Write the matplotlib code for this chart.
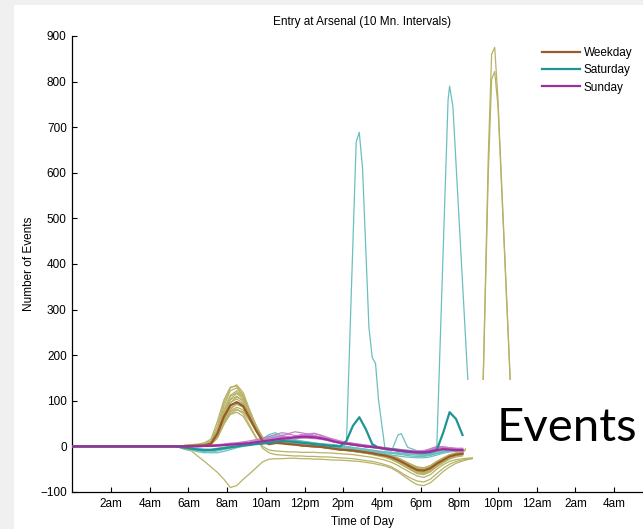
import numpy as np
import matplotlib
matplotlib.use("Agg")
import matplotlib.pyplot as plt
from matplotlib.patches import Rectangle

plt.rcParams['font.family'] = ['Liberation Sans', 'DejaVu Sans']

# ---------------- data ----------------
title = "Entry at Arsenal (10 Mn. Intervals)"
tick_hours = [2, 4, 6, 8, 10, 12, 14, 16, 18, 20, 22, 24, 26, 28]
tick_labels = ["2am", "4am", "6am", "8am", "10am", "12pm", "2pm", "4pm",
               "6pm", "8pm", "10pm", "12am", "2am", "4am"]
y_ticks = [-100, 0, 100, 200, 300, 400, 500, 600, 700, 800, 900]

# sampling hours for the bundles: 5:10, 5:30, ... 20:10
hours = np.arange(31, 122, 2) / 6.0

weekday_thin = {
    "w1": [0,1,2,3,4,6,12,45,95,128,135,118,80,45,18,8,10,12,7,5,6,2,1,3,-2,-4,-2,-7,-8,-6,-12,-14,-12,-19,-23,-29,-36,-44,-50,-52,-47,-37,-29,-21,-17,-15],
    "w2": [0,0,2,2,3,4,10,38,88,122,128,112,75,40,15,6,9,8,11,4,2,5,0,-1,-3,-1,-7,-8,-10,-8,-14,-16,-19,-22,-26,-33,-41,-49,-56,-58,-52,-41,-33,-25,-20,-18],
    "w3": [0,1,1,2,2,3,8,32,78,112,122,110,78,45,18,7,10,14,8,6,9,3,2,4,-2,-4,-5,-3,-8,-9,-11,-9,-16,-18,-21,-27,-34,-41,-47,-48,-43,-34,-27,-20,-16,-14],
    "w4": [0,0,1,1,2,3,7,30,72,104,116,104,70,38,14,5,8,7,10,4,2,1,3,-1,-3,-5,-3,-9,-10,-12,-10,-17,-20,-23,-28,-35,-43,-51,-58,-60,-54,-43,-34,-26,-21,-19],
    "w5": [0,1,1,2,3,3,8,30,72,102,110,98,68,38,15,6,9,8,6,8,3,1,4,-1,-3,-4,-6,-4,-9,-10,-12,-14,-12,-19,-22,-28,-35,-42,-48,-50,-44,-35,-27,-20,-16,-14],
    "w6": [0,0,1,1,2,2,6,26,66,96,104,94,66,36,13,4,7,6,5,7,2,0,-1,1,-4,-6,-8,-6,-11,-13,-15,-18,-21,-24,-29,-36,-44,-52,-60,-62,-56,-45,-36,-28,-23,-21],
    "w7": [0,1,1,2,2,3,6,24,60,88,98,92,65,38,15,6,9,8,7,5,7,2,1,0,2,-4,-5,-6,-4,-9,-11,-13,-15,-17,-21,-26,-33,-40,-46,-47,-42,-33,-25,-18,-14,-12],
    "w8": [0,0,1,1,2,2,5,22,56,84,92,86,62,36,14,5,7,10,5,3,6,1,0,-2,-3,-1,-7,-8,-10,-12,-10,-16,-19,-21,-25,-31,-39,-47,-54,-55,-49,-39,-31,-23,-19,-17],
    "w9": [0,1,1,1,2,3,5,20,52,78,86,80,58,34,13,5,8,7,6,4,3,5,0,-1,-3,-4,-6,-8,-5,-11,-13,-15,-17,-20,-24,-30,-37,-44,-50,-51,-46,-36,-28,-21,-17,-15],
    "w10": [0,0,1,1,1,2,4,18,48,72,80,76,56,33,12,4,6,6,4,7,1,0,-1,-2,-4,-2,-8,-9,-11,-13,-15,-17,-20,-23,-27,-33,-40,-48,-55,-57,-51,-41,-32,-24,-20,-18],
    "w11": [0,1,2,4,5,8,16,55,102,130,132,112,72,38,14,6,12,10,8,6,4,3,6,1,-1,-3,-5,-6,-7,-9,-11,-13,-15,-17,-20,-25,-32,-39,-45,-47,-43,-33,-26,-19,-15,-13],
    "w12": [0,0,1,2,3,5,9,34,80,110,118,108,76,42,16,7,11,9,12,7,5,3,2,1,-1,-3,-4,-6,-7,-9,-11,-12,-14,-17,-20,-26,-33,-40,-46,-48,-44,-35,-27,-20,-16,-14],
    "w13": [0,1,1,2,3,4,8,26,62,96,108,102,76,46,20,8,9,8,6,5,3,2,0,-1,-3,-5,-6,-8,-9,-11,-13,-15,-18,-21,-25,-31,-39,-46,-52,-54,-49,-38,-30,-22,-18,-16],
    "w14": [0,0,1,1,2,3,6,20,50,80,95,90,70,44,20,9,10,9,7,5,3,2,1,-1,-2,-4,-6,-7,-9,-10,-12,-14,-17,-20,-25,-31,-38,-46,-53,-55,-50,-40,-31,-23,-18,-16],
    "low_a": [0,0,1,1,2,3,6,22,50,70,75,66,42,18,0,-8,-10,-11,-12,-12,-13,-13,-13,-14,-14,-15,-16,-17,-18,-20,-22,-24,-27,-30,-35,-42,-50,-58,-65,-68,-62,-50,-40,-33,-29,-27],
    "low_b": [0,0,1,1,2,3,6,24,54,76,82,72,46,20,-4,-14,-18,-19,-20,-21,-21,-22,-22,-23,-23,-24,-25,-26,-27,-29,-31,-33,-36,-40,-45,-53,-62,-70,-76,-78,-72,-60,-48,-39,-33,-30],
    "holiday": [0,-2,-7,-10,-22,-33,-45,-57,-72,-90,-86,-72,-60,-47,-34,-28,-27,-27,-26,-26,-27,-27,-28,-28,-29,-30,-30,-31,-32,-33,-35,-37,-40,-43,-48,-56,-66,-76,-84,-86,-80,-68,-55,-45,-37,-32],
}
# late tails of the three low weekday lines (8:40pm)
tail_hour = 20.67
weekday_tails = {"low_a": -25, "low_b": -27, "holiday": -26}

# two weekdays with a late-evening event
event_hours = [20.17, 21.17, 21.5, 21.67, 21.83, 22.0, 22.33, 22.67, 23.0]
weekday_event_a = [-14, 30, 640, 860, 875, 760, 440, 110, 0]
weekday_event_b = [-12, 30, 600, 805, 822, 745, 430, 105, 0]

saturday_thin = {
    "s1": [0,-1,-4,-8,-12,-14,-13,-10,-7,-4,-1,2,5,9,14,20,24,18,14,12,9,8,6,5,3,2,0,-2,-4,-6,-8,-10,-12,-14,-15,-16,-17,-18,-19,-20,-19,-15,-12,-10,-9,-8],
    "s2": [0,0,-2,-5,-8,-10,-10,-8,-5,-2,0,3,6,10,16,26,30,22,16,13,10,8,7,5,4,3,1,-1,-3,-5,-7,-9,-11,-13,-15,-17,-19,-21,-22,-22,-20,-16,-13,-11,-10,-9],
    "s3": [0,-1,-3,-6,-9,-12,-14,-14,-11,-7,-3,0,3,6,9,12,16,14,11,8,6,4,3,2,0,-1,-3,-5,-7,-9,-11,-13,-15,-17,-19,-21,-23,-24,-25,-25,-23,-19,-15,-12,-11,-10],
    "s4": [0,0,-1,-3,-5,-6,-6,-4,-2,1,3,6,9,13,18,22,19,16,15,13,11,9,7,6,5,4,2,0,-2,-4,-6,-8,-10,-12,-13,-14,-15,-16,-17,-17,-16,-12,-9,-7,-6,-5],
    "s5": [0,-1,-3,-6,-8,-9,-8,-6,-4,-2,0,2,4,7,11,17,21,25,20,15,12,10,8,6,4,2,0,-2,-4,-6,-8,-10,-12,-13,-14,-15,-16,-17,-18,-18,-17,-14,-11,-9,-8,-7],
}
# Saturday with two football matches (finer sampling)
sat_event_hours = [0, 5.17, 6.0, 7.0, 8.0, 9.0, 10.0, 11.0, 12.0, 13.0, 14.0, 14.17,
                   14.67, 14.83, 15.0, 15.33, 15.5, 15.67, 15.83, 16.17, 16.5, 16.83,
                   17.0, 17.33, 18.0, 18.83, 19.42, 19.5, 19.67, 20.5]
sat_event_vals = [0, 0, -5, -9, -2, 5, 12, 10, 6, 2, -2, 10,
                  667, 689, 610, 261, 195, 182, 100, -8, -10, 25,
                  28, -2, -12, -10, 760, 790, 745, 100]

sunday_thin = {
    "u1": [0,0,0,1,1,2,2,3,4,5,6,8,9,12,15,17,20,24,27,24,22,25,23,20,17,13,9,7,5,3,1,-1,-3,-5,-7,-9,-10,-11,-12,-12,-9,-4,-3,-5,-6,-6],
    "u2": [0,0,0,0,1,1,2,2,3,4,5,5,6,8,10,14,17,15,18,22,26,24,19,16,14,10,7,5,3,1,-1,-3,-4,-6,-8,-10,-12,-13,-14,-14,-12,-8,-6,-8,-9,-9],
    "u3": [0,0,0,1,1,1,1,2,3,4,5,7,8,10,12,13,15,20,22,18,20,24,28,25,19,14,11,9,6,4,2,0,-2,-4,-6,-8,-10,-11,-11,-10,-5,0,-2,-4,-5,-5],
    "u4": [0,0,0,0,0,1,1,1,2,3,4,5,6,7,9,11,13,15,16,18,19,18,17,16,13,10,7,5,3,1,-1,-2,-4,-6,-8,-10,-12,-14,-15,-15,-13,-10,-8,-9,-10,-10],
    "u5": [0,0,1,1,1,2,2,3,4,5,6,7,9,11,13,16,18,16,15,20,24,27,24,21,17,12,9,8,6,4,2,1,-1,-3,-5,-7,-8,-10,-11,-11,-8,-3,-1,-3,-5,-5],
    "u6": [0,0,0,0,1,1,1,2,2,3,4,5,7,9,12,15,19,22,19,17,18,20,21,18,15,12,9,7,4,2,0,-2,-4,-6,-8,-10,-11,-12,-13,-14,-12,-8,-6,-7,-8,-8],
    "u7": [0,0,0,1,1,2,3,4,5,7,8,10,12,15,18,22,26,30,28,32,30,27,29,24,20,16,12,9,7,5,3,1,-1,-3,-5,-6,-8,-9,-10,-9,-6,-2,-1,-3,-4,-4],
}

weekday_mean = [0,0,1,1,2,2,6,28,65,90,97,88,62,35,12,5,8,7,5,4,2,1,0,-1,-3,-5,-7,-8,-9,-11,-13,-15,-18,-20,-24,-30,-37,-45,-52,-53,-48,-38,-30,-22,-18,-16]
saturday_mean = [0,-1,-3,-5,-7,-8,-8,-6,-4,-2,0,2,3,5,6,8,10,12,11,10,8,7,5,4,2,1,0,12,45,64,38,5,-3,-5,-6,-8,-10,-12,-13,-14,-13,-8,30,75,60,25]
sunday_mean = [0,0,0,0,0,1,1,2,3,4,5,6,7,9,11,13,15,17,18,20,21,21,20,18,15,11,8,6,4,2,0,-1,-3,-5,-7,-9,-11,-12,-13,-13,-11,-8,-6,-7,-8,-8]

series_names = ["Weekday", "Saturday", "Sunday"]

# ---------------- styles ----------------
c_week_thin = "#b7b267"
c_sat_thin = "#6cbfbf"
c_sun_thin = "#c77fcb"
c_week = "#9a5a2a"
c_sat = "#1f9494"
c_sun = "#9c2f9c"

W, H = 643, 529
fig = plt.figure(figsize=(W / 100, H / 100), dpi=100)
fig.patch.set_facecolor("#f0f0f0")
fig.add_artist(Rectangle((14 / W, 0), 1 - 14 / W, 1 - 5 / H, transform=fig.transFigure,
                         facecolor="white", edgecolor="none", zorder=-10))

ax = fig.add_axes([72.3 / W, 1 - 492 / H, 580.5 / W, 456 / H])
ax.set_facecolor("white")


def with_lead(vals):
    return np.concatenate([[0.0], hours]), np.concatenate([[0.0], vals])


for name, vals in weekday_thin.items():
    x, y = with_lead(vals)
    if name in weekday_tails:
        x = np.append(x, tail_hour)
        y = np.append(y, weekday_tails[name])
    ax.plot(x, y, color=c_week_thin, lw=0.9, zorder=2)
ax.plot(event_hours, weekday_event_a, color=c_week_thin, lw=0.9, zorder=2)
ax.plot(event_hours, weekday_event_b, color=c_week_thin, lw=0.9, zorder=2)

for vals in saturday_thin.values():
    x, y = with_lead(vals)
    ax.plot(x, y, color=c_sat_thin, lw=0.9, zorder=3)
ax.plot(sat_event_hours, sat_event_vals, color=c_sat_thin, lw=0.9, zorder=3)

for vals in sunday_thin.values():
    x, y = with_lead(vals)
    ax.plot(x, y, color=c_sun_thin, lw=0.9, zorder=4)

for vals, col, lab, z in [(weekday_mean, c_week, series_names[0], 5),
                          (saturday_mean, c_sat, series_names[1], 6),
                          (sunday_mean, c_sun, series_names[2], 7)]:
    x, y = with_lead(vals)
    ax.plot(x, y, color=col, lw=1.6, label=lab, zorder=z)

ax.set_xlim(0, 30)
ax.set_ylim(-100, 900)
ax.set_xticks(tick_hours)
ax.set_xticklabels(tick_labels)
ax.set_yticks(y_ticks)
ax.tick_params(direction="in", length=3.5, width=0.8, labelsize=8.5, pad=4, colors="black")
for s in ["top", "right"]:
    ax.spines[s].set_visible(False)
for s in ["left", "bottom"]:
    ax.spines[s].set_linewidth(0.9)

ax.set_title(title, fontsize=8.5, pad=8)
ax.set_xlabel("Time of Day", fontsize=8.5)
ax.set_ylabel("Number of Events", fontsize=8.5)
ax.xaxis.set_label_coords(0.5, -0.052)
ax.yaxis.set_label_coords(-0.064, 0.5)

leg = ax.legend(loc="upper left", bbox_to_anchor=(542 / W, 1 - 47 / H),
                bbox_transform=fig.transFigure, frameon=False, fontsize=8.5,
                handlelength=3.2, handletextpad=0.35, labelspacing=0.45,
                borderpad=0, borderaxespad=0)

# "Events" label box from the slide
fig.add_artist(Rectangle((466 / W, 1 - 452 / H), (W - 466) / W, 72 / H,
                         transform=fig.transFigure, facecolor="white",
                         edgecolor="none", zorder=10))
fig.text(497 / W, 1 - 441 / H, "Events", fontsize=34, family=["Lato", "DejaVu Sans"],
         ha="left", va="baseline", zorder=11)

fig.savefig("out.png", dpi=100, facecolor=fig.get_facecolor())
